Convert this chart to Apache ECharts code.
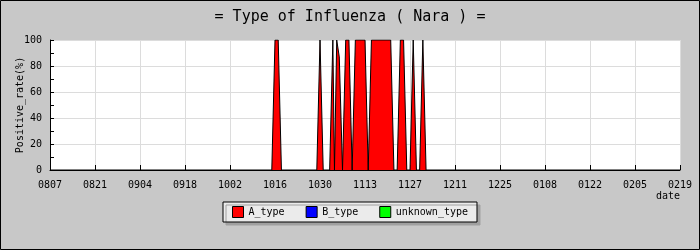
<!DOCTYPE html>
<html>
<head>
<meta charset="utf-8">
<script src="https://cdn.jsdelivr.net/npm/echarts@6/dist/echarts.min.js"></script>
<style>
html,body{margin:0;padding:0;background:#c8c8c8;}
#chart{width:700px;height:250px;}
</style>
</head>
<body>
<div id="chart"></div>
<script>
// Tick labels (every 14 days starting 0807)
const tickLabels = ['0807','0821','0904','0918','1002','1016','1030','1113','1127','1211','1225','0108','0122','0205','0219'];
// A_type: days since 0807 and positive rate (%)
const aDays   = [0, 69, 70, 71, 72, 83, 84, 85, 87, 88, 88.5, 89.2, 90, 91, 92, 93, 94, 95, 98, 99, 100, 106, 107, 108, 109, 110, 111, 112, 113, 114, 115, 116, 117, 196];
const aValues = [0,  0,100,100,  0,  0,100,  0,  0,100,    0,  100, 87,  0,100,100,  0,100,100,  0, 100, 100,   0,   0, 100, 100,   0,   0, 100,   0,   0, 100,   0,   0];
// B_type and unknown_type: no positives in this period
const bDays = [], bValues = [];
const uDays = [], uValues = [];

const FONT = 'DejaVu Sans Mono';
const zip = (d, v) => d.map((x, i) => [x, v[i]]);

const chart = echarts.init(document.getElementById('chart'), null, {renderer: 'canvas'});
chart.setOption({
  backgroundColor: '#c8c8c8',
  animation: false,
  textStyle: {fontFamily: FONT, color: '#000'},
  title: {
    text: '= Type of Influenza ( Nara ) =',
    left: 'center', top: 5,
    textStyle: {fontFamily: FONT, fontSize: 15, fontWeight: 'normal', color: '#000'}
  },
  grid: {left: 50, right: 20, top: 40, bottom: 80, containLabel: false, outerBoundsMode: 'none',
         show: true, backgroundColor: '#ffffff', borderWidth: 0},
  xAxis: {
    type: 'value', min: 0, max: 196, interval: 14,
    axisLine: {lineStyle: {color: '#000', width: 1}},
    axisTick: {inside: true, length: 5, lineStyle: {color: '#000'}},
    axisLabel: {formatter: v => tickLabels[Math.round(v / 14)], margin: 10, color: '#000', fontSize: 10, fontFamily: FONT},
    splitLine: {show: true, lineStyle: {color: '#dcdcdc', width: 1}},
    name: 'date', nameLocation: 'end', nameGap: 0,
    nameTextStyle: {align: 'right', verticalAlign: 'top', padding: [21, 0, 0, 0], fontSize: 10, color: '#000', fontFamily: FONT}
  },
  yAxis: {
    type: 'value', min: 0, max: 100, interval: 20,
    axisLine: {show: true, lineStyle: {color: '#000', width: 1}},
    axisTick: {show: true, inside: true, length: 4, lineStyle: {color: '#000'}},
    minorTick: {show: true, splitNumber: 2, length: 4, lineStyle: {color: '#000'}},
    axisLabel: {margin: 8, color: '#000', fontSize: 10, fontFamily: FONT},
    splitLine: {show: true, lineStyle: {color: '#dcdcdc', width: 1}},
    name: 'Positive_rate(%)', nameLocation: 'middle', nameGap: 25, nameMoveOverlap: false,
    nameTextStyle: {fontSize: 10, color: '#000', fontFamily: FONT}
  },
  legend: {
    left: 'center', top: 202,
    icon: 'rect', itemWidth: 11, itemHeight: 11, itemGap: 21,
    padding: [4, 9],
    backgroundColor: '#ebebeb', borderColor: '#000', borderWidth: 1,
    shadowColor: '#a0a0a0', shadowOffsetX: 3, shadowOffsetY: 3, shadowBlur: 0,
    itemStyle: {borderColor: '#000', borderWidth: 1},
    lineStyle: {width: 0},
    textStyle: {fontSize: 10, color: '#000', fontFamily: FONT}
  },
  graphic: [{
    type: 'rect', shape: {x: 0.5, y: 0.5, width: 699, height: 249},
    style: {fill: 'none', stroke: '#000', lineWidth: 1}, silent: true, z: 100
  }],
  series: [
    {name: 'A_type', type: 'line', data: zip(aDays, aValues), symbol: 'none',
     itemStyle: {color: '#ff0000'}, lineStyle: {color: '#000', width: 1},
     areaStyle: {color: '#ff0000', opacity: 1}},
    {name: 'B_type', type: 'line', data: zip(bDays, bValues), symbol: 'none',
     itemStyle: {color: '#0000ff'}, lineStyle: {color: '#000', width: 1},
     areaStyle: {color: '#0000ff', opacity: 1}},
    {name: 'unknown_type', type: 'line', data: zip(uDays, uValues), symbol: 'none',
     itemStyle: {color: '#00ff00'}, lineStyle: {color: '#000', width: 1},
     areaStyle: {color: '#00ff00', opacity: 1}}
  ]
});
</script>
</body>
</html>
